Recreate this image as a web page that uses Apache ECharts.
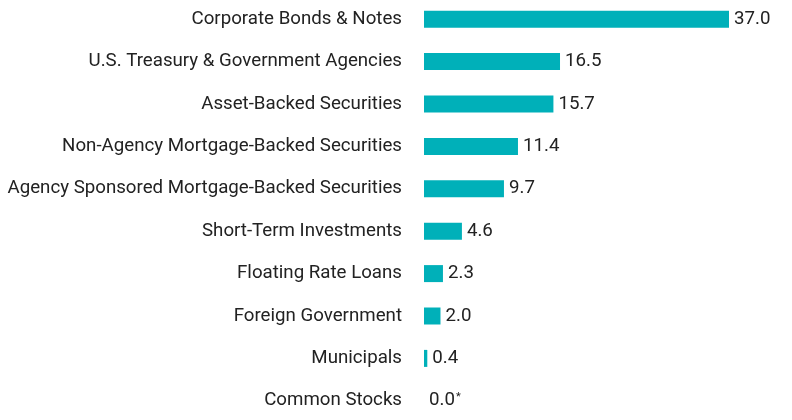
<!DOCTYPE html>
<html>
<head>
<meta charset="utf-8">
<script src="https://cdn.jsdelivr.net/npm/echarts@6/dist/echarts.min.js"></script>
<style>
    html, body { margin: 0; padding: 0; background: #fff; overflow: hidden; }
    #chart { width: 792px; height: 424px; margin-top: -2px; }
</style>
</head>
<body>
<div id="chart"></div>
<script>
// data
const categories = [
    'Corporate Bonds & Notes',
    'U.S. Treasury & Government Agencies',
    'Asset-Backed Securities',
    'Non-Agency Mortgage-Backed Securities',
    'Agency Sponsored Mortgage-Backed Securities',
    'Short-Term Investments',
    'Floating Rate Loans',
    'Foreign Government',
    'Municipals',
    'Common Stocks',
]
const values = [37.0, 16.5, 15.7, 11.4, 9.7, 4.6, 2.3, 2.0, 0.4, 0.0]
const footnoted = ['Common Stocks']

const myChart = echarts.init(document.getElementById('chart'))
const option = {
    animation: false,
    textStyle: { fontFamily: 'Roboto' },
    grid: { left: 424, width: 305, top: 0, bottom: 0 },
    xAxis: {
        type: 'value',
        min: 0,
        max: 37,
        show: false,
    },
    yAxis: {
        type: 'category',
        inverse: true,
        data: categories,
        axisLine: { show: false },
        axisTick: { show: false },
        axisLabel: { margin: 22, fontSize: 18.7, color: '#222', fontFamily: 'Roboto' },
    },
    series: [
        {
            type: 'bar',
            barWidth: 17,
            data: values,
            itemStyle: { color: '#00B0B9' },
            label: {
                show: true,
                position: 'right',
                distance: 5,
                fontSize: 18.7,
                color: '#222',
                fontFamily: 'Roboto',
                formatter: (p) =>
                    footnoted.includes(p.name) ? `${p.value.toFixed(1)}{sup|*}` : p.value.toFixed(1),
                rich: {
                    sup: { fontSize: 11, verticalAlign: 'top', padding: [0, 0, 7, 1], color: '#222' },
                },
            },
        },
    ],
}
myChart.setOption(option)
</script>
</body>
</html>
